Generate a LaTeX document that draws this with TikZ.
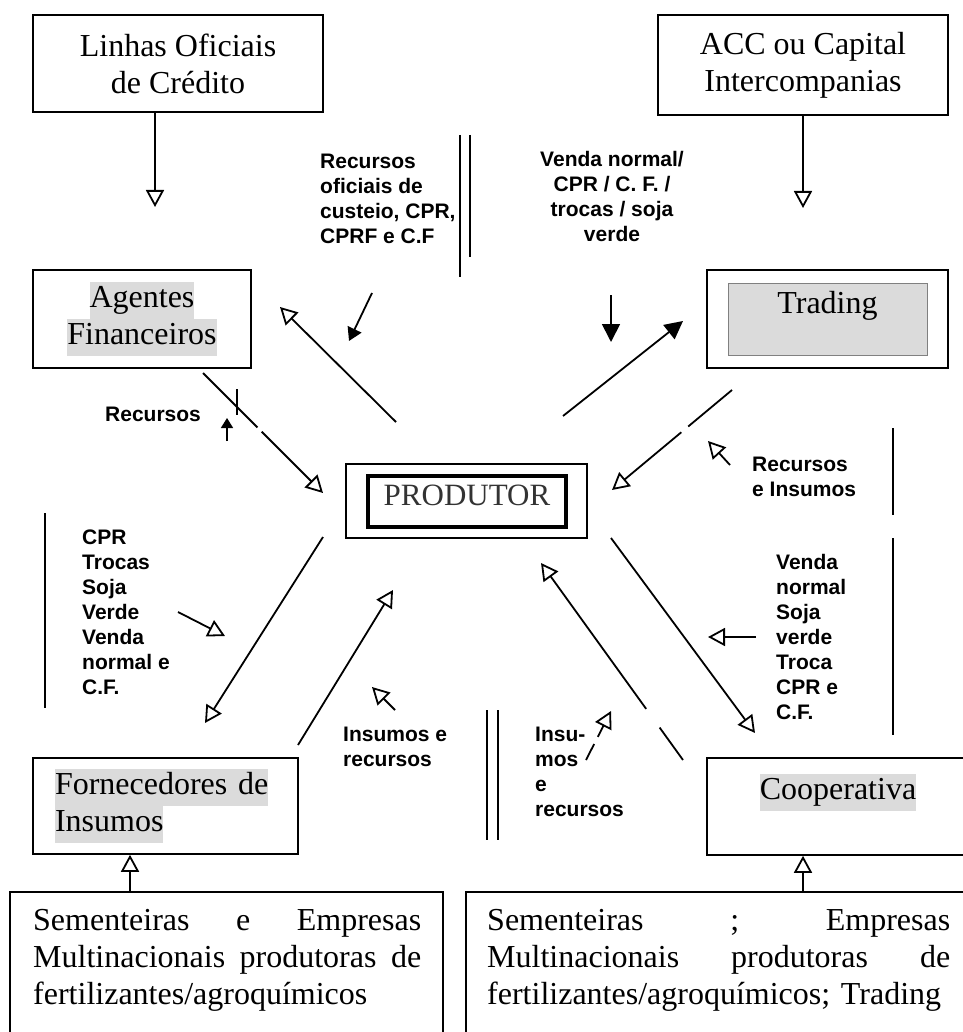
\documentclass[tikz,border=0pt]{standalone}
\usepackage{fontspec}
\setmainfont{Liberation Serif}
\newfontfamily\lblfont{Liberation Sans}
\usetikzlibrary{arrows.meta, positioning}

\definecolor{shadebg}{gray}{0.86}
\newcommand{\shadetxt}[1]{{\setlength{\fboxsep}{0pt}\colorbox{shadebg}{\strut #1}}}

\tikzset{
  box/.style={draw, line width=1.6pt, font=\fontsize{32}{37}\selectfont,
    align=center, inner sep=0pt},
  lbl/.style={font=\lblfont\bfseries\fontsize{21}{25}\selectfont,
    align=left, inner sep=0pt, anchor=north west},
  flow/.style={line width=1.8pt, -{Triangle[open, length=17pt, width=18pt]}},
  flowfill/.style={line width=1.8pt, -{Triangle[length=18pt, width=18pt]}},
  sep/.style={line width=1.5pt},
}

\begin{document}
\begin{tikzpicture}[x=1pt, y=-1pt]
\useasboundingbox (0,0) rectangle (962,1032);

% Add the boxes
\node[box,
    minimum width=290pt,
    minimum height=97pt] (linhas) at (178,63.5) {Linhas Oficiais\\de Crédito};

\node[box,
    minimum width=290pt,
    minimum height=100pt] (acc) at (803,65) {ACC ou Capital\\Intercompanias};

\node[box,
    minimum width=218pt,
    minimum height=98pt] (agentes) at (142,319) {\shadetxt{Agentes}\\\shadetxt{Financeiros}};

\node[box,
    minimum width=241pt,
    minimum height=98pt] (trading) at (827.5,319) {};
\node[fill=shadebg,
    draw=gray, line width=0.6pt,
    minimum width=199pt, minimum height=72pt,
    text height=22pt, text depth=34pt, inner sep=0pt,
    font=\fontsize{32}{37}\selectfont] (tradingname) at (827.5,319) {Trading};

\node[box,
    minimum width=241pt,
    minimum height=74pt] (produtor) at (466.5,501) {};
\node[draw, line width=3.5pt,
    minimum width=198pt, minimum height=51pt,
    text height=21pt, text depth=14pt, inner sep=0pt,
    text=black!80,
    font=\fontsize{31}{37}\selectfont] (produtorname) at (467,501.5) {PRODUTOR};

\node[box,
    minimum width=265pt,
    minimum height=96pt,
    text width=221pt, align=left] (fornec) at (165.5,806) {\shadetxt{Fornecedores de}\\\shadetxt{Insumos}};

\node[box,
    minimum width=280pt,
    minimum height=97pt] (coop) at (847,806.5) {};
\node[inner sep=0pt,
    font=\fontsize{32}{37}\selectfont] (coopname) at (838,792) {\shadetxt{Cooperativa}};

\node[draw, line width=1.6pt,
    minimum width=433pt, minimum height=170pt,
    anchor=north] (semfor) at (226.5,891) {};
\node[inner sep=0pt, anchor=north west,
    text width=388pt, align=left,
    font=\fontsize{32}{37}\selectfont] (semfortxt) at (33,909)
  {\makebox[388pt][l]{Sementeiras\hfill e\hfill Empresas}\\
   \makebox[388pt][l]{Multinacionais\hfill produtoras\hfill de}\\
   fertilizantes/agroquímicos};

\node[draw, line width=1.6pt,
    minimum width=525pt, minimum height=170pt,
    anchor=north west] (semcoop) at (465,891) {};
\node[inner sep=0pt, anchor=north west,
    text width=463pt, align=left,
    font=\fontsize{32}{37}\selectfont] (semcooptxt) at (487,909)
  {\makebox[463pt][l]{Sementeiras\hfill;\hfill Empresas}\\
   \makebox[463pt][l]{Multinacionais\hfill produtoras\hfill de}\\
   fertilizantes/agroquímicos; Trading};

% Add the labels
\node[lbl] (recof) at (320,154) {Recursos\\oficiais de\\custeio, CPR,\\CPRF e C.F};
\node[lbl, anchor=north, align=center] (vendtr) at (612,151) {Venda normal/\\CPR / C. F. /\\trocas / soja\\verde};
\node[lbl] (recag) at (105,407) {Recursos};
\node[lbl] (recins) at (752,457) {Recursos\\e Insumos};
\node[lbl] (cprfor) at (82,530) {CPR\\Trocas\\Soja\\Verde\\Venda\\normal e\\C.F.};
\node[lbl] (vendcoop) at (776,554) {Venda\\normal\\Soja\\verde\\Troca\\CPR e\\C.F.};
\node[lbl] (insfor) at (343,727) {Insumos e\\recursos};
\node[lbl] (inscoop) at (535,727) {Insu-\\mos\\e\\recursos};

% Free ends of the connectors
\coordinate (l1) at (155,207);
\coordinate (a1) at (803,208);
\coordinate (f1) at (130,0);
\coordinate (c1) at (803,0);
\coordinate (ag1) at (203,373);  \coordinate (ag2) at (323,493);
\coordinate (pa1) at (396,422);  \coordinate (pa2) at (280,307);
\coordinate (pt1) at (563,416);  \coordinate (pt2) at (683,321);
\coordinate (tp1) at (732,390);  \coordinate (tp2) at (612,490);
\coordinate (pc1) at (611,538);  \coordinate (pc2) at (755,733);
\coordinate (cp1) at (683,760);  \coordinate (cp2) at (541,563);
\coordinate (pf1) at (323,537);  \coordinate (pf2) at (205,723);
\coordinate (fp1) at (298,745);  \coordinate (fp2) at (393,590);

% Pointers next to the labels
\coordinate (po1a) at (372,293); \coordinate (po1b) at (349,341);
\coordinate (po2a) at (611,295); \coordinate (po2b) at (611,342);
\coordinate (po3a) at (227,441); \coordinate (po3b) at (227,418);
\coordinate (po4a) at (730,465); \coordinate (po4b) at (708,441);
\coordinate (po5a) at (756,637); \coordinate (po5b) at (708,637);
\coordinate (po6a) at (586,760); \coordinate (po6b) at (611,711);
\coordinate (po7a) at (395,710); \coordinate (po7b) at (372,687);
\coordinate (po8a) at (178,612); \coordinate (po8b) at (225,636);

% Add the connectors
\draw[flow] (linhas.south -| l1) -- (l1);
\draw[flow] (acc.south) -- (a1);
\draw[flow] (semfor.north -| f1) -- (fornec.south -| f1);
\draw[flow] (semcoop.north -| c1) -- (coop.south -| c1);

\draw[flow, dash pattern=on 77pt off 6pt on 300pt] (ag1) -- (ag2);
\draw[flow] (pa1) -- (pa2);
\draw[flowfill] (pt1) -- (pt2);
\draw[flow, dash pattern=on 57pt off 9pt on 300pt] (tp1) -- (tp2);
\draw[flow] (pc1) -- (pc2);
\draw[flow, dash pattern=on 40pt off 23pt on 300pt] (cp1) -- (cp2);
\draw[flow] (pf1) -- (pf2);
\draw[flow] (fp1) -- (fp2);

\draw[line width=1.8pt, -{Triangle[length=13pt, width=15pt]}] (po1a) -- (po1b);
\draw[flowfill] (po2a) -- (po2b);
\draw[line width=1.5pt, -{Triangle[length=10pt, width=12pt]}] (po3a) -- (po3b);
\draw[flow] (po4a) -- (po4b);
\draw[flow] (po5a) -- (po5b);
\draw[flow, dash pattern=on 18pt off 8pt on 100pt] (po6a) -- (po6b);
\draw[flow] (po7a) -- (po7b);
\draw[flow] (po8a) -- (po8b);

% separator strokes
\foreach \x/\ya/\yb in {460/135/277, 470/135/257, 893/428/515, 893/538/735,
    45/513/708, 487/710/840, 498/710/840, 237/389/415}
  \draw[sep] (\x,\ya) -- (\x,\yb);

\end{tikzpicture}
\end{document}
